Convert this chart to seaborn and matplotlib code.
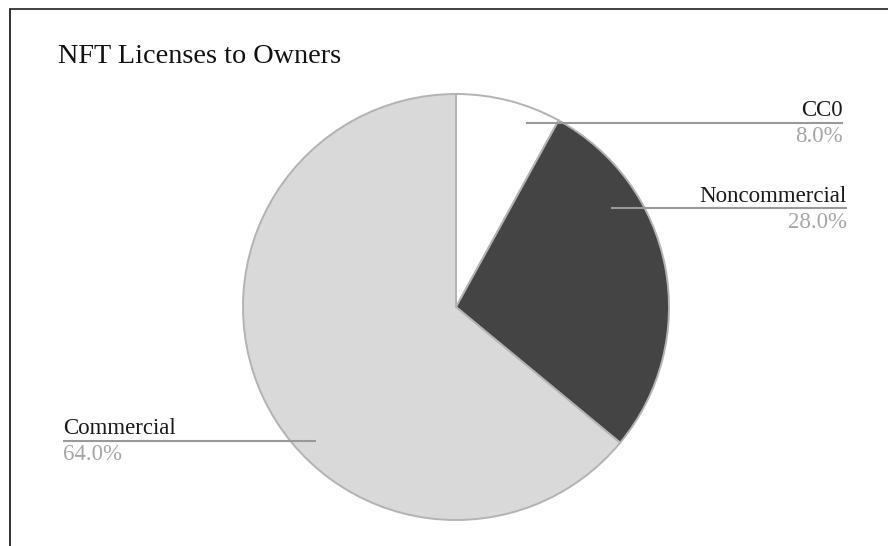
import matplotlib
matplotlib.use("Agg")
import matplotlib.pyplot as plt
import seaborn as sns
import numpy as np
from matplotlib.lines import Line2D

# ---- data ----
categories = ["CC0", "Noncommercial", "Commercial"]
shares = [8.0, 28.0, 64.0]
slice_colors = ["#ffffff", "#444444", "#d9d9d9"]
title = "NFT Licenses to Owners"

sns.set_theme(style="white")
plt.rcParams["font.family"] = ["Liberation Serif", "DejaVu Serif"]

W, H, DPI = 888, 546, 100
fig = plt.figure(figsize=(W / DPI, H / DPI), dpi=DPI)
fig.patch.set_facecolor("white")

# pie geometry (pixels)
cx, cy, R = 456, 307, 213
ax = fig.add_axes([0, 0, 1, 1])
ax.pie(shares, colors=slice_colors, startangle=90, counterclock=False,
       radius=1, center=(0, 0),
       wedgeprops=dict(edgecolor="#b3b3b3", linewidth=1.4))
ax.set_xlim(-cx / R, (W - cx) / R)
ax.set_ylim(-(H - cy) / R, cy / R)
ax.set_aspect("auto")
ax.axis("off")

def px(x):
    return (x - cx) / R

def py(y):
    return (cy - y) / R

# label layout: (anchor x, anchor y, line end x, alignment) in pixels
layout = {
    "CC0": (526, 123, 843, "right"),
    "Noncommercial": (611, 208, 847, "right"),
    "Commercial": (316, 441, 63, "left"),
}
for cat, val in zip(categories, shares):
    ax_, ay_, ex_, ha = layout[cat]
    ax.plot([px(ax_), px(ex_)], [py(ay_), py(ay_)], color="#999999",
            linewidth=1.5, solid_capstyle="butt", zorder=5)
    ax.text(px(ex_), py(ay_ - 6.5), cat, ha=ha, va="baseline",
            fontsize=16.5, color="#1a1a1a", zorder=6)
    ax.text(px(ex_), py(ay_ + 19.5), f"{val:.1f}%", ha=ha, va="baseline",
            fontsize=16.5, color="#a6a6a6", zorder=6)

# title
fig.text(58 / W, 1 - 63 / H, title, ha="left", va="baseline",
         fontsize=20.3, color="#111111")

# frame lines (cropped box)
fig.add_artist(Line2D([9.5 / W, 9.5 / W], [0, 1 - 8.5 / H], color="#222222",
                      linewidth=1.3, transform=fig.transFigure))
fig.add_artist(Line2D([9.5 / W, 1], [1 - 8.5 / H, 1 - 8.5 / H], color="#333333",
                      linewidth=1.3, transform=fig.transFigure))

fig.savefig("out.png", dpi=DPI)
